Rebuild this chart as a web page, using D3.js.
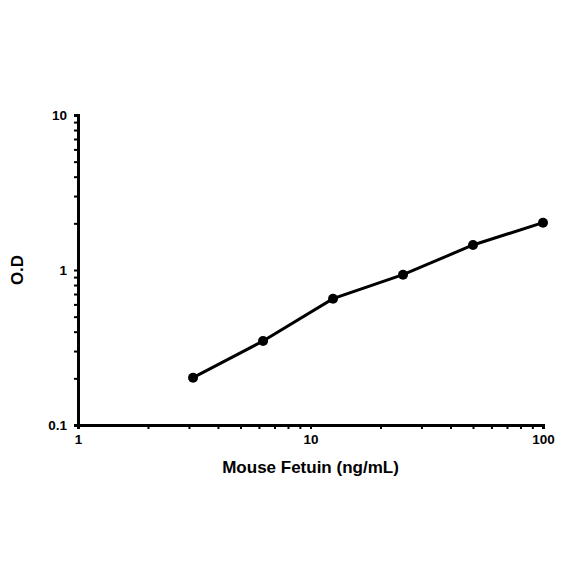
<!DOCTYPE html>
<html>
<head>
<meta charset="utf-8">
<script src="https://cdn.jsdelivr.net/npm/d3@7"></script>
<style>
  body { margin: 0; background: #fff; }
  text { font-family: Arial, "Liberation Sans", sans-serif; font-weight: bold; }
</style>
</head>
<body>
<script>
// Données du graphique
const concentrations = [3.125, 6.25, 12.5, 25, 50, 100];
const odValues = [0.202, 0.348, 0.653, 0.933, 1.45, 2.02];
const xTickLabels = [1, 10, 100];
const yTickLabels = [0.1, 1, 10];

const margin = { top: 115, right: 41, bottom: 159, left: 78 },
      width = 584 - margin.left - margin.right,
      height = 584 - margin.top - margin.bottom;

const svg = d3.select("body").append("svg")
    .attr("width", 584)
    .attr("height", 584)
    .append("g")
    .attr("transform", `translate(${margin.left},${margin.top})`);

// Échelles log-log
const x = d3.scaleLog().domain([1, 100]).range([0, width]);
const y = d3.scaleLog().domain([0.1, 10]).range([height, 0]);

// toutes les graduations (majeures + mineures)
const minorTicks = (lo, hi) => {
    const t = [];
    for (let d = lo; d < hi; d *= 10)
        for (let k = 1; k < 10; k++) t.push(d * k);
    t.push(hi);
    return t;
};

// Axe X
const xAxis = svg.append("g")
    .attr("transform", `translate(0,${height})`)
    .call(d3.axisBottom(x)
        .tickValues(minorTicks(1, 100))
        .tickSize(4)
        .tickPadding(5)
        .tickFormat(d => xTickLabels.includes(d) ? d : ""));

// Axe Y
const yAxis = svg.append("g")
    .call(d3.axisLeft(y)
        .tickValues(minorTicks(0.1, 10).map(v => +v.toPrecision(3)))
        .tickSize(4)
        .tickPadding(7)
        .tickFormat(d => yTickLabels.includes(d) ? d : ""));

[xAxis, yAxis].forEach(a => {
    a.select(".domain").attr("stroke", "#000").attr("stroke-width", 3);
    a.selectAll(".tick line").attr("stroke", "#000").attr("stroke-width", 2);
    a.selectAll(".tick text")
        .attr("fill", "#000")
        .attr("font-size", "13.5px")
        .attr("font-weight", "bold")
        .attr("font-family", "Arial, 'Liberation Sans', sans-serif");
});

// Ligne des données
const pts = concentrations.map((c, i) => ({ c: c, od: odValues[i] }));

svg.append("path")
    .datum(pts)
    .attr("fill", "none")
    .attr("stroke", "#000")
    .attr("stroke-width", 3)
    .attr("d", d3.line().x(d => x(d.c)).y(d => y(d.od)));

svg.selectAll(".dot")
    .data(pts)
    .enter().append("circle")
    .attr("class", "dot")
    .attr("cx", d => x(d.c))
    .attr("cy", d => y(d.od))
    .attr("r", 5)
    .attr("fill", "#000");

// Titres des axes
svg.append("text")
    .attr("x", width / 2)
    .attr("y", height + 48)
    .attr("text-anchor", "middle")
    .attr("font-size", "17px")
    .text("Mouse Fetuin (ng/mL)");

svg.append("text")
    .attr("transform", `translate(-55,${height / 2}) rotate(-90)`)
    .attr("text-anchor", "middle")
    .attr("font-size", "17px")
    .text("O.D");
</script>
</body>
</html>
